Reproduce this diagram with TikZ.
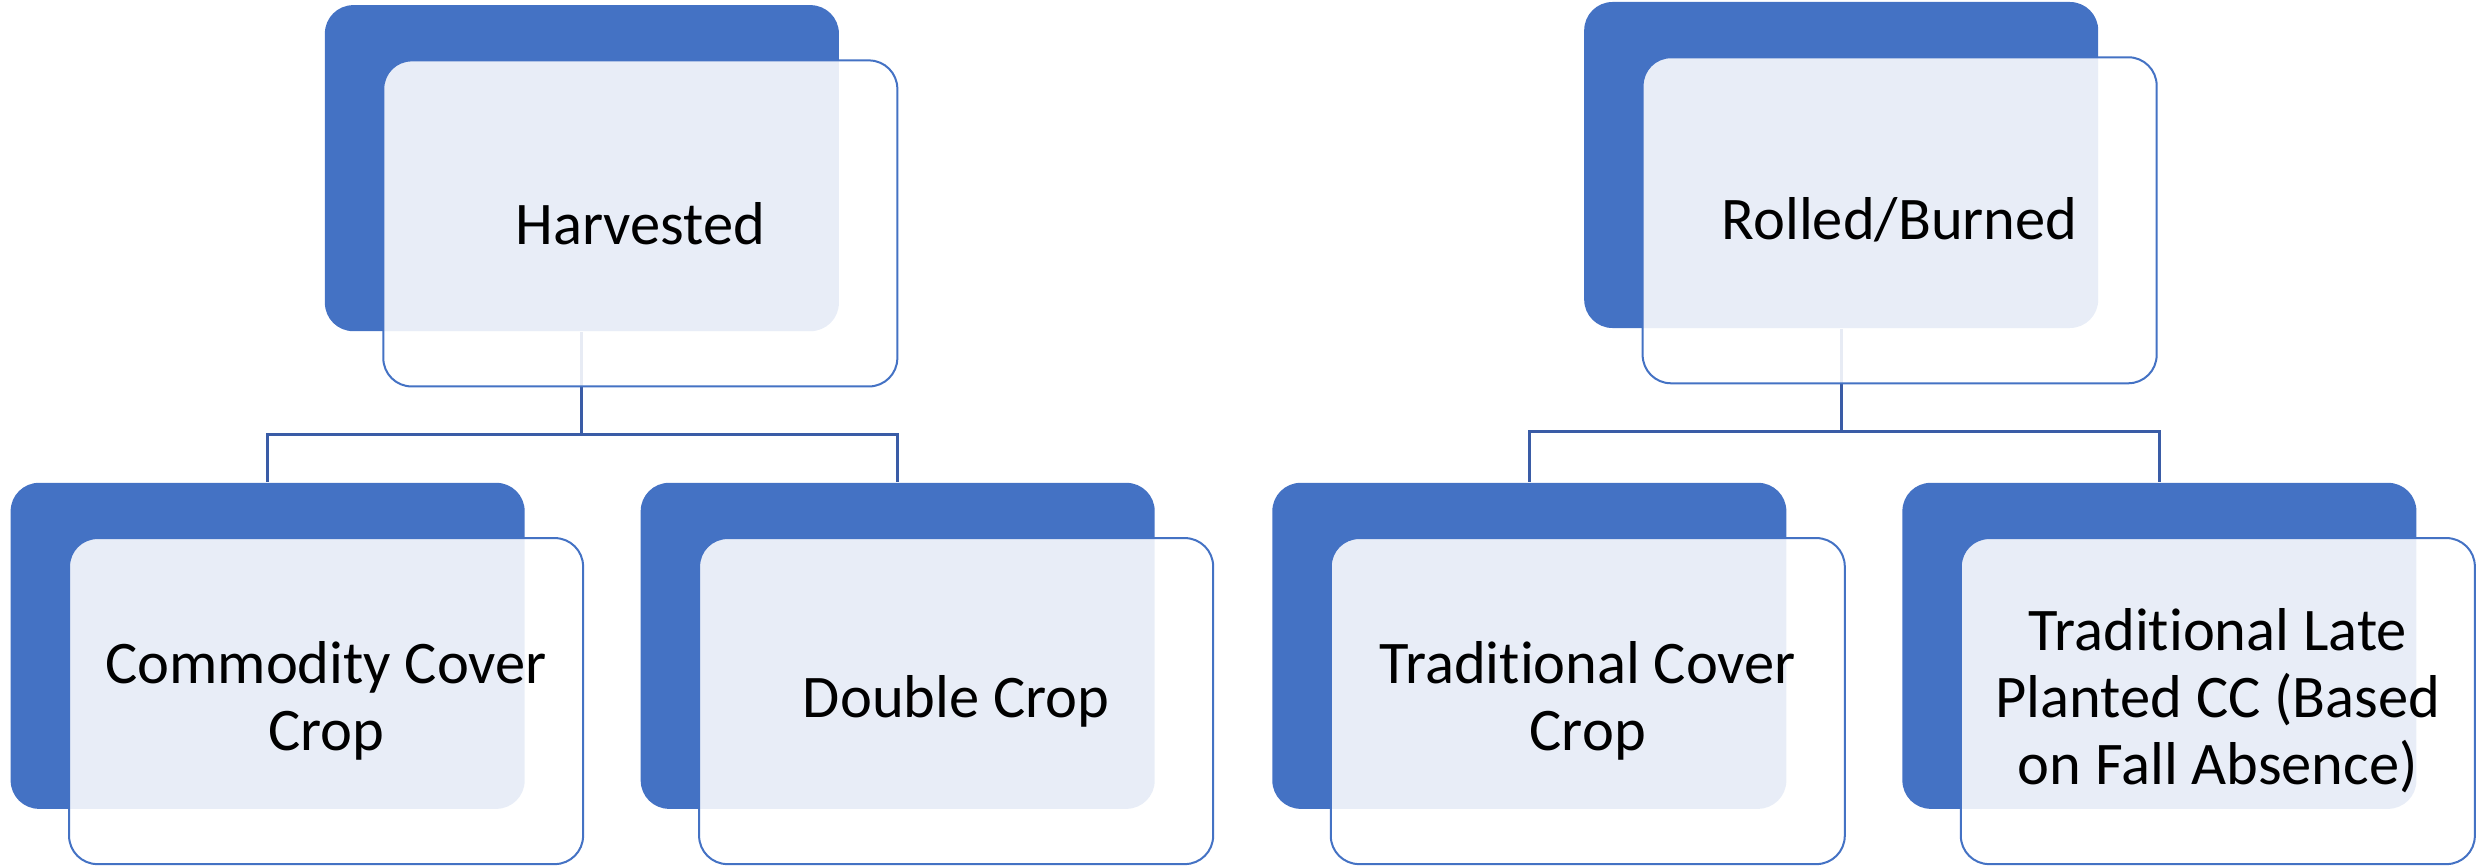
\documentclass[tikz,border=0pt]{standalone}
\usepackage{fontspec}
\setmainfont{Carlito}[Ligatures={NoCommon, NoContextual}]

\definecolor{accent}{HTML}{4472C4}
\definecolor{linkblue}{HTML}{3A5CA6}

\tikzset{
  backbox/.style={rectangle, rounded corners=8.5pt, fill=accent,
    minimum width=154.2pt, minimum height=97.8pt, inner sep=0pt},
  frontbox/.style={rectangle, rounded corners=8.5pt, draw=accent,
    line width=0.6pt, fill=white, fill opacity=0.88, text opacity=1,
    minimum width=154.2pt, minimum height=97.8pt, inner sep=0pt,
    align=center, font=\fontsize{18.15}{20.1}\selectfont},
  link/.style={draw=linkblue, line width=0.9pt}
}

\begin{document}
\begin{tikzpicture}[x=0.4737pt, y=-0.4737pt]
    \useasboundingbox (0, 0) rectangle (1568, 548);

    % Back panels
    \node [backbox] (harvB) at (368.5, 106.5) {};
    \node [backbox] (rollB) at (1166, 104.5) {};
    \node [backbox] (commB) at (169.5, 409) {};
    \node [backbox] (dblB)  at (568.5, 409) {};
    \node [backbox] (tradB) at (968.5, 409) {};
    \node [backbox] (lateB) at (1367.5, 409) {};

    % Edges
    \draw [link] (harvB.south) -- ++(0, 65) coordinate (harvBus) -| (commB.north);
    \draw [link] (harvBus) -| (dblB.north);
    \draw [link] (rollB.south) -- ++(0, 65) coordinate (rollBus) -| (tradB.north);
    \draw [link] (rollBus) -| (lateB.north);

    % Front panels
    \node [frontbox] (harv) at (405.5, 141.5) {Harvested};
    \node [frontbox] (roll) at (1203, 139.5) {Rolled/Burned};
    \node [frontbox] (comm) at (206.5, 444) {Commodity Cover\\Crop};
    \node [frontbox] (dbl)  at (605.5, 444) {Double Crop};
    \node [frontbox] (trad) at (1005.5, 444) {Traditional Cover\\Crop};
    \node [frontbox] (late) at (1404.5, 444)
          {Traditional Late\\Planted CC (Based\\on Fall Absence)};
\end{tikzpicture}
\end{document}
